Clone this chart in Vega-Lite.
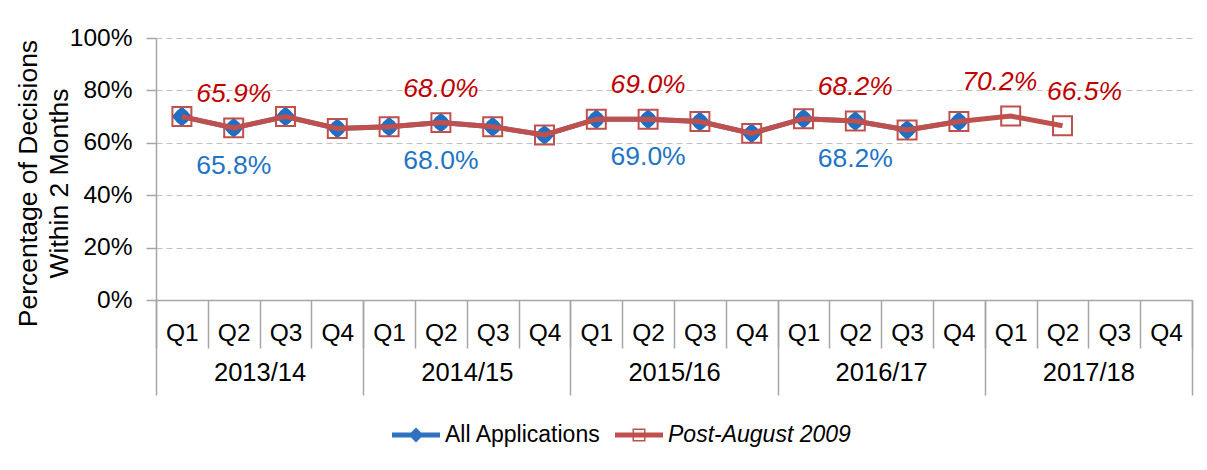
{
  "$schema": "https://vega.github.io/schema/vega-lite/v6.json",
  "width": 1036,
  "height": 262,
  "autosize": {"type": "none"},
  "padding": {"left": 156, "top": 38, "right": 15, "bottom": 170},
  "config": {
    "font": "Liberation Sans",
    "view": {"stroke": null},
    "axis": {"labelColor": "#000000", "titleColor": "#000000", "labelFont": "Liberation Sans", "titleFont": "Liberation Sans"}
  },
  "datasets": {
    "years": [
      {"year": "2013/14"}, {"year": "2014/15"}, {"year": "2015/16"}, {"year": "2016/17"}, {"year": "2017/18"}
    ],
    "series": [
      {"period": "2013/14 Q1", "series": "All Applications", "value": 0.700},
      {"period": "2013/14 Q2", "series": "All Applications", "value": 0.657, "label": "65.8%"},
      {"period": "2013/14 Q3", "series": "All Applications", "value": 0.700},
      {"period": "2013/14 Q4", "series": "All Applications", "value": 0.655},
      {"period": "2014/15 Q1", "series": "All Applications", "value": 0.661},
      {"period": "2014/15 Q2", "series": "All Applications", "value": 0.677, "label": "68.0%"},
      {"period": "2014/15 Q3", "series": "All Applications", "value": 0.661},
      {"period": "2014/15 Q4", "series": "All Applications", "value": 0.630},
      {"period": "2015/16 Q1", "series": "All Applications", "value": 0.690},
      {"period": "2015/16 Q2", "series": "All Applications", "value": 0.690, "label": "69.0%"},
      {"period": "2015/16 Q3", "series": "All Applications", "value": 0.681},
      {"period": "2015/16 Q4", "series": "All Applications", "value": 0.636},
      {"period": "2016/17 Q1", "series": "All Applications", "value": 0.692},
      {"period": "2016/17 Q2", "series": "All Applications", "value": 0.683, "label": "68.2%"},
      {"period": "2016/17 Q3", "series": "All Applications", "value": 0.649},
      {"period": "2016/17 Q4", "series": "All Applications", "value": 0.681},
      {"period": "2013/14 Q1", "series": "Post-August 2009", "value": 0.700},
      {"period": "2013/14 Q2", "series": "Post-August 2009", "value": 0.657, "label": "65.9%"},
      {"period": "2013/14 Q3", "series": "Post-August 2009", "value": 0.700},
      {"period": "2013/14 Q4", "series": "Post-August 2009", "value": 0.655},
      {"period": "2014/15 Q1", "series": "Post-August 2009", "value": 0.661},
      {"period": "2014/15 Q2", "series": "Post-August 2009", "value": 0.677, "label": "68.0%"},
      {"period": "2014/15 Q3", "series": "Post-August 2009", "value": 0.661},
      {"period": "2014/15 Q4", "series": "Post-August 2009", "value": 0.630},
      {"period": "2015/16 Q1", "series": "Post-August 2009", "value": 0.690},
      {"period": "2015/16 Q2", "series": "Post-August 2009", "value": 0.690, "label": "69.0%"},
      {"period": "2015/16 Q3", "series": "Post-August 2009", "value": 0.681},
      {"period": "2015/16 Q4", "series": "Post-August 2009", "value": 0.636},
      {"period": "2016/17 Q1", "series": "Post-August 2009", "value": 0.692},
      {"period": "2016/17 Q2", "series": "Post-August 2009", "value": 0.683, "label": "68.2%"},
      {"period": "2016/17 Q3", "series": "Post-August 2009", "value": 0.649},
      {"period": "2016/17 Q4", "series": "Post-August 2009", "value": 0.681},
      {"period": "2017/18 Q1", "series": "Post-August 2009", "value": 0.702, "label": "70.2%"},
      {"period": "2017/18 Q2", "series": "Post-August 2009", "value": 0.665, "label": "66.5%"}
    ]
  },
  "layer": [
    {
      "data": {"name": "years"},
      "mark": {"type": "point", "opacity": 0},
      "encoding": {
        "x": {
          "field": "year", "type": "nominal", "sort": null,
          "scale": {"type": "band", "paddingInner": 0, "paddingOuter": 0},
          "axis": {
            "orient": "bottom", "title": null, "domain": false, "grid": false,
            "tickBand": "extent", "tickSize": 95, "tickColor": "#a6a6a6", "tickWidth": 1.5,
            "labelPadding": -35, "labelFontSize": 25.5, "labelAngle": 0
          }
        }
      }
    },
    {
      "data": {"name": "series"},
      "encoding": {
        "x": {
          "field": "period", "type": "nominal", "sort": null,
          "scale": {
            "type": "band", "paddingInner": 0, "paddingOuter": 0,
            "domain": ["2013/14 Q1", "2013/14 Q2", "2013/14 Q3", "2013/14 Q4", "2014/15 Q1", "2014/15 Q2", "2014/15 Q3", "2014/15 Q4", "2015/16 Q1", "2015/16 Q2", "2015/16 Q3", "2015/16 Q4", "2016/17 Q1", "2016/17 Q2", "2016/17 Q3", "2016/17 Q4", "2017/18 Q1", "2017/18 Q2", "2017/18 Q3", "2017/18 Q4"]
          },
          "axis": {
            "orient": "bottom", "title": null, "grid": false,
            "labelExpr": "split(datum.label, ' ')[1]",
            "tickBand": "extent", "tickSize": 48, "tickColor": "#a6a6a6", "tickWidth": 1.5,
            "domainColor": "#a6a6a6", "domainWidth": 1.5,
            "labelPadding": -27, "labelFontSize": 24.5, "labelAngle": 0
          }
        },
        "y": {
          "field": "value", "type": "quantitative",
          "scale": {"domain": [0, 1]},
          "axis": {
            "title": ["Percentage of Decisions", "Within 2 Months"],
            "titleFontSize": 26.5, "titleFontWeight": "normal", "titleLineHeight": 31, "titlePadding": -4, "titleY": 145,
            "values": [0, 0.2, 0.4, 0.6, 0.8, 1], "format": ".0%",
            "labelFontSize": 24.5, "labelPadding": 14,
            "tickSize": 10, "tickColor": "#a6a6a6", "tickWidth": 1.5,
            "domainColor": "#a6a6a6", "domainWidth": 1.5,
            "gridColor": "#c0c0c0", "gridDash": [6, 4], "gridWidth": 1
          }
        }
      },
      "layer": [
        {
          "transform": [{"filter": "datum.series == 'All Applications'"}],
          "mark": {"type": "line", "strokeWidth": 5},
          "encoding": {
            "color": {
              "field": "series", "type": "nominal",
              "scale": {"domain": ["All Applications", "Post-August 2009"], "range": ["#4f81bd", "#c0504d"]},
              "legend": {
                "orient": "none", "legendX": 236, "legendY": 373, "direction": "horizontal", "title": null,
                "symbolSize": 2304, "labelFontSize": 23, "labelColor": "#000000", "labelOffset": 5, "columnPadding": 14, "labelLimit": 0,
                "encode": {
                  "symbols": {"update": {
                    "shape": {"signal": "datum.value == 'All Applications' ? 'M-1,-0.1H1V0.1H-1Z M0,-0.31L0.31,0L0,0.31L-0.31,0Z' : 'M-1,-0.1H1V0.1H-1Z M-0.27,-0.27H0.27V0.27H-0.27Z M-0.21,-0.21V0.21H0.21V-0.21Z'"},
                    "fill": {"signal": "datum.value == 'All Applications' ? '#2f72c0' : '#c0504d'"},
                    "stroke": {"value": "transparent"},
                    "strokeWidth": {"value": 0},
                    "opacity": {"value": 1}
                  }},
                  "labels": {"update": {
                    "fontStyle": {"signal": "datum.value == 'Post-August 2009' ? 'italic' : 'normal'"}
                  }}
                }
              }
            }
          }
        },
        {
          "transform": [{"filter": "datum.series == 'All Applications'"}],
          "mark": {"type": "point", "shape": "circle", "filled": true, "size": 230, "color": "#1f70c4", "opacity": 1}
        },
        {
          "transform": [{"filter": "datum.series == 'All Applications'"}],
          "mark": {"type": "point", "shape": "diamond", "filled": true, "size": 420, "color": "#1f70c4", "opacity": 1}
        },
        {
          "transform": [{"filter": "datum.series == 'Post-August 2009'"}],
          "mark": {"type": "line", "strokeWidth": 5},
          "encoding": {
            "color": {"field": "series", "type": "nominal"}
          }
        },
        {
          "transform": [{"filter": "datum.series == 'Post-August 2009'"}],
          "mark": {"type": "point", "shape": "square", "filled": false, "size": 360, "stroke": "#c0504d", "strokeWidth": 2, "opacity": 1}
        },
        {
          "transform": [{"filter": "datum.series == 'Post-August 2009' && datum.label && slice(datum.period, 0, 7) != '2017/18'"}],
          "mark": {"type": "text", "fontSize": 26.5, "fontStyle": "italic", "color": "#c00000", "dy": -34, "baseline": "middle"},
          "encoding": {"text": {"field": "label"}}
        },
        {
          "transform": [{"filter": "datum.series == 'Post-August 2009' && datum.period == '2017/18 Q1'"}],
          "mark": {"type": "text", "fontSize": 26.5, "fontStyle": "italic", "color": "#c00000", "dy": -34, "dx": -11, "baseline": "middle"},
          "encoding": {"text": {"field": "label"}}
        },
        {
          "transform": [{"filter": "datum.series == 'Post-August 2009' && datum.period == '2017/18 Q2'"}],
          "mark": {"type": "text", "fontSize": 26.5, "fontStyle": "italic", "color": "#c00000", "dy": -34, "dx": 22, "baseline": "middle"},
          "encoding": {"text": {"field": "label"}}
        },
        {
          "transform": [{"filter": "datum.series == 'All Applications' && datum.label"}],
          "mark": {"type": "text", "fontSize": 26.5, "color": "#1f75c4", "dy": 38, "baseline": "middle"},
          "encoding": {"text": {"field": "label"}}
        }
      ]
    }
  ],
  "resolve": {"scale": {"x": "independent"}, "axis": {"x": "independent"}}
}
